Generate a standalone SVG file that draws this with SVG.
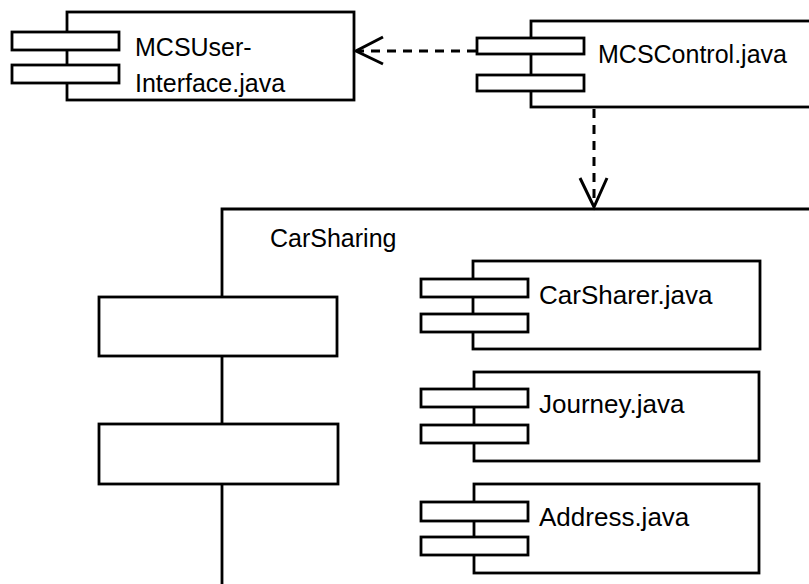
<svg xmlns="http://www.w3.org/2000/svg" width="809" height="584" viewBox="0 0 809 584">
<style>
.b{fill:#fff;stroke:#000;stroke-width:2.8}
.t{font-family:"Liberation Sans",Arial,sans-serif;font-size:25px;fill:#000}
.t2{font-family:"Liberation Sans",Arial,sans-serif;font-size:26px;fill:#000}
.d{fill:none;stroke:#000;stroke-width:3;stroke-dasharray:9 7}
.a{fill:none;stroke:#000;stroke-width:3}
</style>
<rect width="809" height="584" fill="#fff"/>
<g id="package-carsharing">
<path class="b" d="M222,590 V209 H812 V590"/>
<rect class="b" x="99" y="297" width="238" height="59"/>
<rect class="b" x="99" y="424" width="239" height="60"/>
<text class="t" x="270" y="247">CarSharing</text>
</g>
<g id="mcsuserinterface">
<rect class="b" x="67" y="12" width="287" height="88"/>
<rect class="b" x="12" y="32" width="107" height="18"/>
<rect class="b" x="12" y="65" width="107" height="18"/>
<text class="t" x="135" y="56">MCSUser-</text>
<text class="t" x="135" y="92">Interface.java</text>
</g>
<g id="mcscontrol">
<rect class="b" x="531" y="21" width="290" height="86"/>
<rect class="b" x="477" y="38" width="107" height="16"/>
<rect class="b" x="477" y="75" width="107" height="16"/>
<text class="t" x="598" y="63">MCSControl.java</text>
</g>
<g id="carsharer">
<rect class="b" x="473" y="261" width="287" height="88"/>
<rect class="b" x="421" y="279" width="107" height="18"/>
<rect class="b" x="421" y="314" width="107" height="18"/>
<text class="t2" x="539" y="304">CarSharer.java</text>
</g>
<g id="journey">
<rect class="b" x="474" y="372" width="285" height="89"/>
<rect class="b" x="421" y="389" width="107" height="18"/>
<rect class="b" x="421" y="425" width="107" height="18"/>
<text class="t2" x="539" y="413">Journey.java</text>
</g>
<g id="address">
<rect class="b" x="474" y="484" width="285" height="89"/>
<rect class="b" x="421" y="502" width="107" height="19"/>
<rect class="b" x="421" y="537" width="107" height="18"/>
<text class="t2" x="539" y="526">Address.java</text>
</g>
<g id="connectors">
<line class="d" x1="476" y1="51" x2="358" y2="51"/>
<polyline class="a" points="383,37 356,51 383,64"/>
<line class="d" x1="594" y1="109" x2="594" y2="205"/>
<polyline class="a" points="580,178 594,207 607,178"/>
</g>
</svg>
